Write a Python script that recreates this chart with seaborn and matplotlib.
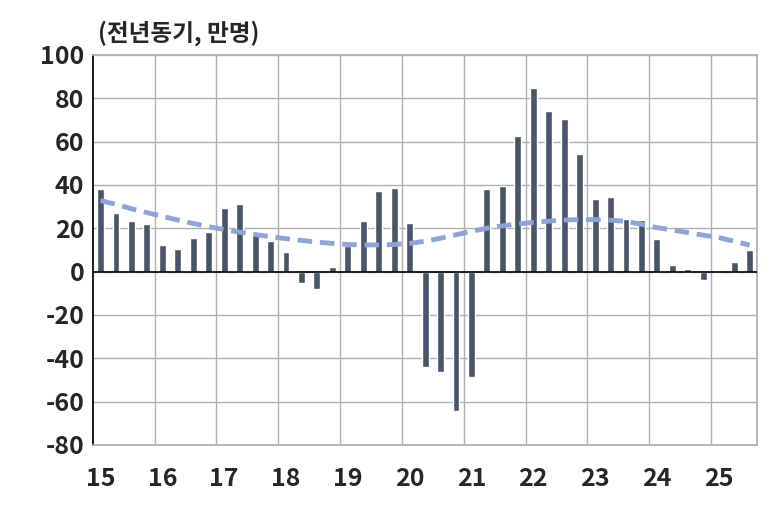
import matplotlib
matplotlib.use("Agg")
import matplotlib.pyplot as plt
import seaborn as sns
import pandas as pd
import numpy as np

quarters = list(range(43))
values = [38, 27, 23.2, 22, 12.5, 10.6, 15.5, 18.3, 29.4, 31.2, 16.8, 14, 8.9, -5.5, -8, 2,
          11.7, 23.5, 37, 38.6, 22.2, -44, -46.5, -64.5, -48.8, 38.2, 39.7, 62.8, 84.9, 74.3,
          70.5, 54.5, 33.7, 34.2, 24.5, 24, 15, 3.2, 1, -3.7, 0, 4.3, 10]
trend = [32.8, 31, 29, 27.2, 25.5, 23.8, 22.2, 20.7, 19.4, 18.2, 17.1, 16.1, 15.2, 14.4, 13.6, 13.0,
         12.5, 12.3, 12.3, 12.5, 13.0, 14.0, 15.4, 17.0, 18.6, 20.0, 21.1, 22.0, 22.7, 23.3,
         23.8, 24.0, 24.0, 23.7, 23.2, 21.8, 20.3, 19.2, 18.0, 16.8, 15.7, 14.0, 12.2]
year_labels = ["15", "16", "17", "18", "19", "20", "21", "22", "23", "24", "25"]
title = "(전년동기, 만명)"

sns.set_theme(style="white")
plt.rcParams['font.family'] = ['Noto Sans CJK KR', 'DejaVu Sans']

fig = plt.figure(figsize=(7.8, 5.09), dpi=100)
ax = fig.add_axes([0.119, 0.126, 0.852, 0.766])
df = pd.DataFrame({"q": quarters, "v": values, "t": trend})
ax.bar(df["q"], df["v"], width=0.45, color="#485468", zorder=3)
sns.lineplot(data=df, x="q", y="t", ax=ax, color="#8fa3d8", lw=3.5, linestyle=(0, (3, 1.6)), zorder=4)

ax.set_xlim(-0.5, 42.5)
ax.set_ylim(-80, 100)
ax.set_yticks(range(-80, 101, 20))
ax.set_yticklabels([str(v) for v in range(-80, 101, 20)], fontsize=18, fontweight="bold")
ax.set_xticks(range(0, 43, 4))
ax.set_xticklabels(year_labels, fontsize=18, fontweight="bold")
ax.grid(False)
for xg in [i + 3.5 for i in range(0, 40, 4)]:
    ax.axvline(xg, color="#b0b0b0", lw=1, zorder=1)
for yg in range(-80, 101, 20):
    ax.axhline(yg, color="#b0b0b0", lw=1, zorder=1)
ax.axhline(0, color="black", lw=1.2, zorder=5)
ax.tick_params(axis="y", length=0, pad=6)
ax.tick_params(axis="x", length=0, pad=16)
ax.set_xlabel(""); ax.set_ylabel("")
for s in ax.spines.values():
    s.set_color("#b0b0b0")
ax.spines["left"].set_color("black")
fig.text(0.125, 0.935, title, fontsize=17, fontweight="bold", ha="left", va="center")
fig.savefig("out.png", dpi=100)
